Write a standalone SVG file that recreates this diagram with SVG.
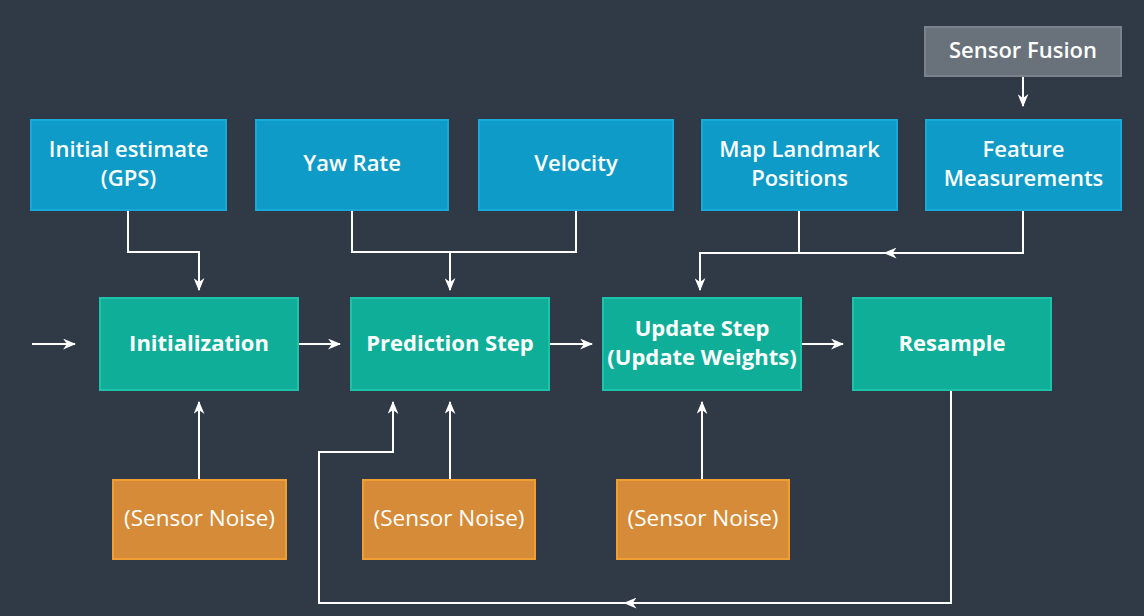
<svg xmlns="http://www.w3.org/2000/svg" width="1144" height="616" viewBox="0 0 1144 616">
  <defs>
    <marker id="arrow" viewBox="0 0 12 10" refX="11" refY="5" markerWidth="13" markerHeight="11" markerUnits="userSpaceOnUse" orient="auto">
      <path d="M0,0 L12,5 L0,10 L3.5,5 Z" fill="#ffffff"/>
    </marker>
    <marker id="mid" viewBox="0 0 12 10" refX="6" refY="5" markerWidth="13" markerHeight="11" markerUnits="userSpaceOnUse" orient="auto">
      <path d="M0,0 L12,5 L0,10 L3.5,5 Z" fill="#ffffff"/>
    </marker>
  </defs>
  <style>
    .bg { fill: #2f3a46; }
    .blue { fill: #0e9bc8; stroke: #17a9d8; stroke-width: 2; }
    .teal { fill: #0eae99; stroke: #1cc2aa; stroke-width: 2; }
    .orange { fill: #d58b38; stroke: #f09e32; stroke-width: 2; }
    .gray { fill: #69727b; stroke: #7a838c; stroke-width: 2; }
    .lbl { font-family: "Open Sans", "Noto Sans", sans-serif; font-size: 22px; fill: #ffffff; text-anchor: middle; }
    .b { font-weight: 700; }
    .s { font-weight: 600; }
    .n { font-weight: 400; font-size: 22.5px; }
    .line { fill: none; stroke: #ffffff; stroke-width: 2; }
  </style>
  <rect class="bg" x="0" y="0" width="1144" height="616"/>

  <g id="connectors">
    <path class="line" d="M32,344 H75" marker-end="url(#arrow)"/>
    <path class="line" d="M298,344 H340" marker-end="url(#arrow)"/>
    <path class="line" d="M549,344 H592" marker-end="url(#arrow)"/>
    <path class="line" d="M801,344 H843" marker-end="url(#arrow)"/>
    <path class="line" d="M1023,76 V106" marker-end="url(#arrow)"/>
    <path class="line" d="M128,210 V252 H199 V290" marker-end="url(#arrow)"/>
    <path class="line" d="M352,210 V252 H576 V210"/>
    <path class="line" d="M450,252 V290" marker-end="url(#arrow)"/>
    <path class="line" d="M799,210 V253"/>
    <path class="line" d="M1023,210 V253 H890" marker-end="url(#mid)"/>
    <path class="line" d="M890,253 H700 V290" marker-end="url(#arrow)"/>
    <path class="line" d="M199,480 V402" marker-end="url(#arrow)"/>
    <path class="line" d="M450,480 V402" marker-end="url(#arrow)"/>
    <path class="line" d="M702,480 V402" marker-end="url(#arrow)"/>
    <path class="line" d="M951,390 V603 H630" marker-end="url(#mid)"/>
    <path class="line" d="M630,603 H319 V452 H393 V402" marker-end="url(#arrow)"/>
  </g>

  <g id="sensor-fusion">
    <rect class="gray" x="925" y="27" width="196" height="49"/>
    <text class="lbl s" x="1023" y="58">Sensor Fusion</text>
  </g>
  <g id="initial-estimate">
    <rect class="blue" x="31" y="120" width="195" height="90"/>
    <text class="lbl s" x="128.5" y="157">Initial estimate<tspan x="128.5" dy="29">(GPS)</tspan></text>
  </g>
  <g id="yaw-rate">
    <rect class="blue" x="256" y="120" width="192" height="90"/>
    <text class="lbl s" x="352" y="171">Yaw Rate</text>
  </g>
  <g id="velocity">
    <rect class="blue" x="479" y="120" width="194" height="90"/>
    <text class="lbl s" x="576" y="171">Velocity</text>
  </g>
  <g id="map-landmarks">
    <rect class="blue" x="702" y="120" width="195" height="90"/>
    <text class="lbl s" x="799.5" y="157">Map Landmark<tspan x="799.5" dy="29">Positions</tspan></text>
  </g>
  <g id="feature-measurements">
    <rect class="blue" x="926" y="120" width="195" height="90"/>
    <text class="lbl s" x="1023.5" y="157">Feature<tspan x="1023.5" dy="29">Measurements</tspan></text>
  </g>

  <g id="initialization">
    <rect class="teal" x="100" y="298" width="198" height="92"/>
    <text class="lbl b" x="199" y="351">Initialization</text>
  </g>
  <g id="prediction-step">
    <rect class="teal" x="351" y="298" width="198" height="92"/>
    <text class="lbl b" x="450" y="351">Prediction Step</text>
  </g>
  <g id="update-step">
    <rect class="teal" x="603" y="298" width="198" height="92"/>
    <text class="lbl b" x="702" y="336">Update Step<tspan x="702" dy="29">(Update Weights)</tspan></text>
  </g>
  <g id="resample">
    <rect class="teal" x="853" y="298" width="198" height="92"/>
    <text class="lbl b" x="952" y="351">Resample</text>
  </g>

  <g id="noise-init">
    <rect class="orange" x="113" y="480" width="173" height="79"/>
    <text class="lbl n" x="199.5" y="526">(Sensor Noise)</text>
  </g>
  <g id="noise-prediction">
    <rect class="orange" x="363" y="480" width="172" height="79"/>
    <text class="lbl n" x="449" y="526">(Sensor Noise)</text>
  </g>
  <g id="noise-update">
    <rect class="orange" x="617" y="480" width="172" height="79"/>
    <text class="lbl n" x="703" y="526">(Sensor Noise)</text>
  </g>
</svg>
